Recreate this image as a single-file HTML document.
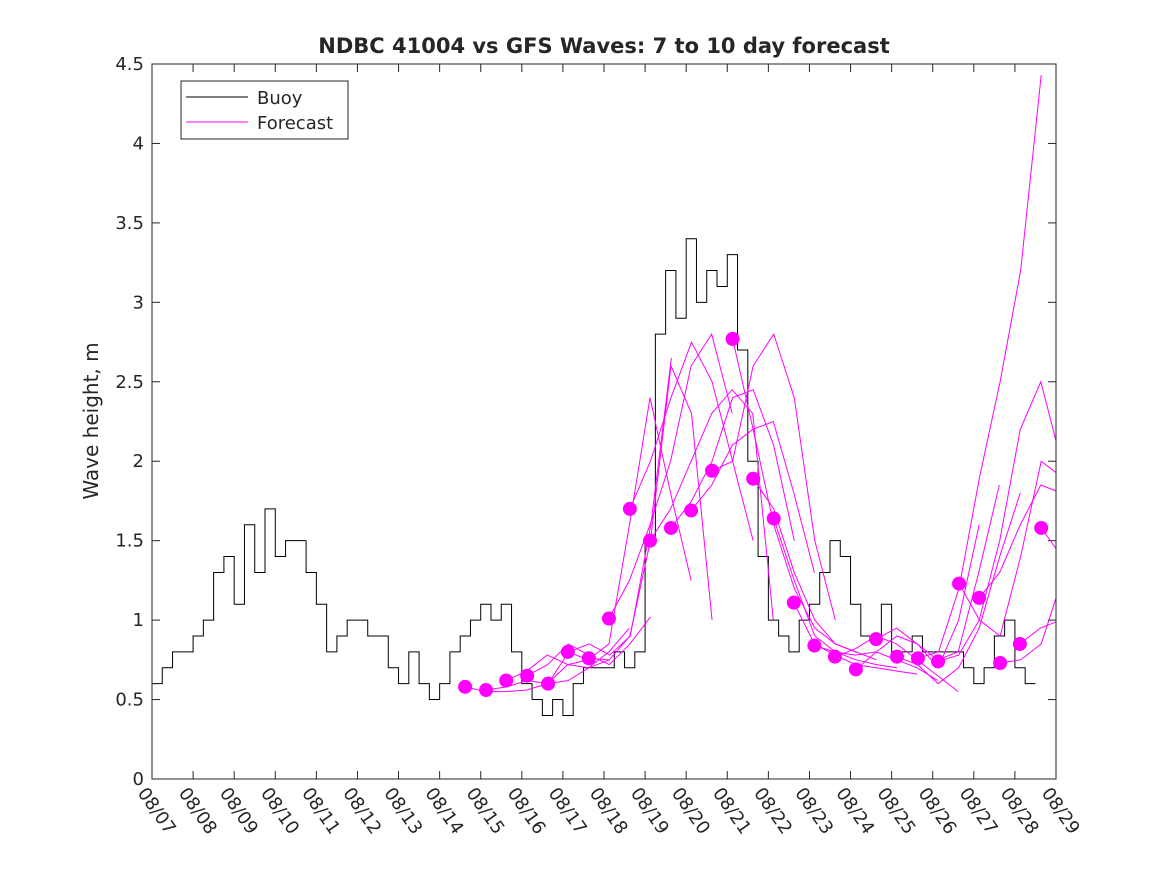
<!DOCTYPE html>
<html><head><meta charset="utf-8"><style>
body{margin:0;background:#fff;}
svg text{font-family:"DejaVu Sans","Liberation Sans",sans-serif;fill:#262626;}
</style></head><body>
<svg id="c" width="1167" height="875" xmlns="http://www.w3.org/2000/svg">
<rect width="1167" height="875" fill="#fff"/>
<defs><clipPath id="pc"><rect x="152" y="64" width="904" height="715"/></clipPath></defs>
<text x="604" y="53" text-anchor="middle" font-size="21" font-weight="bold" fill="#000">NDBC 41004 vs GFS Waves: 7 to 10 day forecast</text>
<text transform="translate(98,421) rotate(-90)" text-anchor="middle" font-size="20">Wave height, m</text>
<g id="ax"></g>
<g id="series" clip-path="url(#pc)"></g>
<rect x="152" y="64" width="904" height="715" fill="none" stroke="#262626" stroke-width="1"/>
<g>
<rect x="181" y="81" width="167" height="58" fill="#fff" stroke="#262626"/>
<line x1="186" y1="97" x2="248" y2="97" stroke="#000"/>
<text x="257" y="104" font-size="18">Buoy</text>
<line x1="186" y1="122" x2="248" y2="122" stroke="#f0f"/>
<text x="257" y="129" font-size="18">Forecast</text>
</g>
</svg>
<script>
const xTickLabels=["08/07","08/08","08/09","08/10","08/11","08/12","08/13","08/14","08/15","08/16","08/17","08/18","08/19","08/20","08/21","08/22","08/23","08/24","08/25","08/26","08/27","08/28","08/29"];
const yTicks=[0,0.5,1,1.5,2,2.5,3,3.5,4,4.5];
const buoyStep=0.25;
const buoy=[0.6,0.7,0.8,0.8, 0.9,1.0,1.3,1.4, 1.1,1.6,1.3,1.7, 1.4,1.5,1.5,1.3, 1.1,0.8,0.9,1.0, 1.0,0.9,0.9,0.7, 0.6,0.8,0.6,0.5, 0.6,0.8,0.9,1.0, 1.1,1.0,1.1,0.8, 0.6,0.5,0.4,0.5, 0.4,0.6,0.7,0.7, 0.7,0.8,0.7,0.8, 1.5,2.8,3.2,2.9, 3.4,3.0,3.2,3.1, 3.3,2.7,2.0,1.4, 1.0,0.9,0.8,1.0, 1.1,1.3,1.5,1.4, 1.1,0.9,0.9,1.1, 0.8,0.8,0.9,0.8, 0.8,0.8,0.8,0.7, 0.6,0.7,0.9,1.0, 0.7,0.6];
const fcStart=[7.62,8.13,8.62,9.13,9.64,10.12,10.63,11.12,11.63,12.12,12.63,13.12,13.63,14.13,14.63,15.13,15.62,16.12,16.62,17.13,17.62,18.13,18.64,19.13,19.64,20.13,20.64,21.12,21.64];
const fcDot=[0.58,0.56,0.62,0.65,0.60,0.80,0.76,1.01,1.70,1.50,1.58,1.69,1.94,2.77,1.89,1.64,1.11,0.84,0.77,0.69,0.88,0.77,0.76,0.74,1.23,1.14,0.73,0.85,1.58];
const fcStep=0.5;
const fcLines=[
[0.58,0.55,0.55,0.56,0.6,0.72,0.75],
[0.56,0.58,0.62,0.6,0.62,0.7,0.75],
[0.62,0.68,0.78,0.72,0.7,0.8,0.95],
[0.65,0.72,0.85,0.78,0.72,0.85,1.02],
[0.60,0.8,0.85,0.78,0.9,1.6,2.65],
[0.80,0.75,0.85,1.6,2.4,1.8,1.25],
[0.76,0.75,0.9,1.5,2.6,2.3,1.0],
[1.01,1.25,1.6,2.0,2.6,2.8,2.3],
[1.70,2.0,2.4,2.75,2.5,2.0,1.5],
[1.50,1.7,2.0,2.3,2.45,2.3,1.0],
[1.58,1.75,2.0,2.4,2.45,2.1,1.5],
[1.69,1.85,2.1,2.2,2.25,1.8,1.3],
[1.94,2.0,2.6,2.8,2.4,1.5,1.0],
[2.77,2.2,1.6,1.2,0.95,0.85,0.8],
[1.89,1.7,1.3,1.0,0.85,0.8,0.75],
[1.64,1.25,0.9,0.8,0.75,0.72,0.7],
[1.11,0.85,0.78,0.72,0.7,0.68,0.66],
[0.84,0.8,0.78,0.8,0.75,0.7,0.62],
[0.77,0.82,0.9,0.85,0.75,0.65,0.55],
[0.69,0.8,0.9,0.85,0.7,1.0,1.6],
[0.88,0.95,0.85,0.75,0.8,1.3,1.85],
[0.77,0.72,0.6,0.7,0.95,1.4,1.8],
[0.76,0.8,1.2,1.9,2.5,3.2,4.43],
[0.74,0.78,1.0,1.5,2.2,2.5,2.0],
[1.23,1.0,0.9,1.4,2.0,1.9,1.8],
[1.14,1.3,1.6,1.85,1.8,1.6,1.4],
[0.73,0.75,0.85,1.25,1.3,1.2,1.1],
[0.85,0.95,1.0,0.9,0.85,0.8,0.8],
[1.58,1.4,1.3,1.2,1.1,1.0,1.0]];
const X0=152,X1=1056,Y0=779,Y1=64,XMAX=22,YMAX=4.5;
const xs=d=>X0+(X1-X0)*d/XMAX;
const ys=v=>Y0-(Y0-Y1)*v/YMAX;
const NS="http://www.w3.org/2000/svg";
const ax=document.getElementById('ax'),sg=document.getElementById('series');
function mk(t,a,p){const e=document.createElementNS(NS,t);for(const k in a)e.setAttribute(k,a[k]);p.appendChild(e);return e;}
xTickLabels.forEach((l,i)=>{
 const x=xs(i);
 const t=mk('line',{x1:x,y1:Y0,x2:x,y2:Y0-8,stroke:'#262626'},ax);
 
 
 const t2=mk('line',{x1:x,y1:Y1,x2:x,y2:Y1+8,stroke:'#262626'},ax);
 
 
 const tx=mk('text',{transform:`translate(${x-15},${Y0+14}) rotate(55)`,'font-size':18},ax);
 tx.textContent=l;
 
 
});
yTicks.forEach(v=>{
 const y=ys(v);
 const t=mk('line',{x1:X0,y1:y,x2:X0+8,y2:y,stroke:'#262626'},ax);
 
 
 const t2=mk('line',{x1:X1,y1:y,x2:X1-8,y2:y,stroke:'#262626'},ax);
 
 
 const tx=mk('text',{x:X0-8,y:y+6,'text-anchor':'end','font-size':18},ax);
 tx.textContent=String(v);
 
 
});
let d='';
buoy.forEach((v,i)=>{const x=xs(i*buoyStep),y=ys(v);d+=(i?`H${x}V${y}`:`M${x},${y}`);});
d+=`H${xs(buoy.length*buoyStep)}`;
const bl=mk('path',{d:d,fill:'none',stroke:'#000','stroke-width':1},sg);


fcLines.forEach((arr,k)=>{
 const pts=arr.map((v,i)=>`${xs(fcStart[k]+i*fcStep)},${ys(v)}`).join(' ');
 const p=mk('polyline',{points:pts,fill:'none',stroke:'#f0f','stroke-width':1},sg);
 
 
});
fcDot.forEach((v,k)=>{
 const c=mk('circle',{cx:xs(fcStart[k]),cy:ys(v),r:7,fill:'#f0f'},sg);
 
 
});
</script>
</body></html>
